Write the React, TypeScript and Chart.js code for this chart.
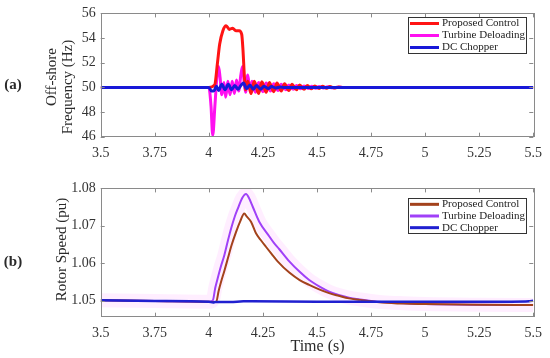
import React, { useEffect, useRef } from "react";
import { Chart, registerables } from "chart.js";
Chart.register(...registerables);

// ---------- data ----------
const X_TICKS = [3.5, 3.75, 4, 4.25, 4.5, 4.75, 5, 5.25, 5.5];
const FREQ_TICKS = [46, 48, 50, 52, 54, 56];
const SPEED_TICKS = [1.05, 1.06, 1.07, 1.08];
const LEGEND_LABELS = ["Proposed Control", "Turbine Deloading", "DC Chopper"];

// (a) Off-shore frequency (Hz)
const freqProposedT = [3.5, 4.0, 4.027, 4.04, 4.05, 4.065, 4.08, 4.095, 4.11, 4.125, 4.14, 4.152, 4.158, 4.164, 4.17,
  4.18, 4.195, 4.21, 4.23, 4.245, 4.265, 4.28, 4.3, 4.315, 4.335, 4.35, 4.37, 4.385, 4.405, 4.42, 4.44, 4.455, 4.475,
  4.49, 4.51, 4.525, 4.545, 4.56, 4.58, 4.6, 4.62, 5.5];
const freqProposedV = [50, 50, 50.2, 52.0, 53.5, 54.6, 55.0, 54.7, 54.8, 54.6, 54.6, 54.3, 53.0, 51.0, 49.8,
  50.5, 49.5, 50.5, 49.5, 50.45, 49.6, 50.4, 49.65, 50.35, 49.7, 50.3, 49.75, 50.25, 49.8, 50.2, 49.85, 50.15, 49.88,
  50.12, 49.9, 50.1, 49.93, 50.07, 49.95, 50.03, 50, 50];

const freqDeloadT = [3.5, 4.0, 4.01, 4.018, 4.028, 4.038, 4.045, 4.052, 4.06, 4.07, 4.078, 4.088, 4.098, 4.108, 4.118,
  4.128, 4.138, 4.148, 4.156, 4.163, 4.17, 4.18, 4.19, 4.2, 4.215, 4.23, 4.25, 4.265, 4.285, 4.3, 4.32, 4.335, 4.355,
  4.37, 4.39, 4.405, 4.425, 4.44, 4.46, 4.475, 4.495, 4.51, 4.53, 4.55, 4.57, 4.6, 4.62, 5.5];
const freqDeloadV = [50, 50, 48.5, 46.1, 48.5, 51.0, 51.7, 50.8, 49.4, 50.4, 49.2, 50.5, 49.4, 50.5, 49.5,
  50.6, 49.7, 51.0, 51.7, 50.5, 49.6, 51.0, 49.8, 50.5, 49.6, 50.4, 49.65, 50.35, 49.7, 50.3, 49.75, 50.25, 49.8,
  50.2, 49.85, 50.15, 49.88, 50.12, 49.9, 50.1, 49.92, 50.08, 49.95, 50.05, 49.97, 50.02, 50, 50];

const freqChopperT = [3.5, 4.0, 4.012, 4.025, 4.035, 4.045, 4.06, 4.075, 4.09, 4.105, 4.12, 4.135, 4.15, 4.16, 4.175,
  4.19, 4.205, 4.22, 4.24, 4.255, 4.275, 4.29, 4.31, 4.33, 4.35, 5.5];
const freqChopperV = [50, 50, 49.7, 49.75, 50.1, 49.75, 50.25, 49.8, 50.25, 49.8, 50.15, 49.85, 50.2, 50.35, 49.9,
  50.2, 49.85, 50.15, 49.85, 50.1, 49.9, 50.07, 49.95, 50.03, 50, 50];

// (b) Rotor speed (pu)
const speedProposedT = [3.5, 3.75, 4.0, 4.034, 4.045, 4.057, 4.072, 4.088, 4.105, 4.126, 4.145, 4.164, 4.175, 4.195,
  4.218, 4.24, 4.264, 4.29, 4.318, 4.372, 4.42, 4.464, 4.51, 4.556, 4.6, 4.648, 4.7, 4.75, 4.8, 4.9, 5.0, 5.25, 5.5];
const speedProposedV = [1.0501, 1.0499, 1.0497, 1.0496, 1.0525, 1.0551, 1.058, 1.0613, 1.0648, 1.0684, 1.0712, 1.0733,
  1.0725, 1.0711, 1.068, 1.0662, 1.0644, 1.0625, 1.0605, 1.0575, 1.0555, 1.0542, 1.053, 1.052, 1.0513, 1.0506, 1.0502,
  1.0498, 1.0495, 1.0492, 1.0491, 1.0489, 1.0488];

const speedDeloadT = [3.5, 3.75, 4.0, 4.018, 4.03, 4.041, 4.055, 4.072, 4.088, 4.103, 4.12, 4.134, 4.155, 4.172, 4.185,
  4.203, 4.233, 4.279, 4.3, 4.325, 4.372, 4.42, 4.464, 4.51, 4.556, 4.6, 4.648, 4.7, 4.75, 4.8, 4.9, 5.0, 5.25, 5.5];
const speedDeloadV = [1.0501, 1.0499, 1.0497, 1.05, 1.0535, 1.056, 1.059, 1.0622, 1.066, 1.0693, 1.0725, 1.0746, 1.0775,
  1.0785, 1.0775, 1.0751, 1.0711, 1.0672, 1.0655, 1.0638, 1.0605, 1.0577, 1.0555, 1.0538, 1.0524, 1.0515, 1.0508,
  1.0503, 1.0499, 1.0496, 1.0493, 1.0491, 1.0489, 1.0488];

const speedChopperT = [3.5, 3.75, 4.0, 4.02, 4.03, 4.1, 4.16, 4.2, 4.5, 5.0, 5.4, 5.48, 5.5];
const speedChopperV = [1.0501, 1.0499, 1.0497, 1.0495, 1.0496, 1.0496, 1.0498, 1.0498, 1.0497, 1.0497, 1.0497, 1.0498, 1.05];

// ---------- helpers ----------
const SERIF = '"Liberation Serif", "Times New Roman", serif';
const pts = (t: number[], v: number[]) => t.map((x, i) => ({ x, y: v[i] }));

type TextItem = { text: string; x: number; y: number; rot?: boolean; font: string };

const decorPlugin = {
  id: "decor",
  afterDatasetsDraw(chart: any, _args: any, opts: any) {
    const { ctx, chartArea: a, scales } = chart;
    ctx.save();
    // frame
    ctx.strokeStyle = "#8a8a8a";
    ctx.lineWidth = 1;
    ctx.strokeRect(Math.round(a.left) + 0.5, Math.round(a.top) + 0.5, Math.round(a.width), Math.round(a.height));
    // inward ticks on all sides
    const L = 4;
    ctx.beginPath();
    scales.x.ticks.forEach((t: any) => {
      const px = Math.round(scales.x.getPixelForValue(t.value)) + 0.5;
      ctx.moveTo(px, a.bottom); ctx.lineTo(px, a.bottom - L);
      ctx.moveTo(px, a.top); ctx.lineTo(px, a.top + L);
    });
    scales.y.ticks.forEach((t: any) => {
      const py = Math.round(scales.y.getPixelForValue(t.value)) + 0.5;
      ctx.moveTo(a.left, py); ctx.lineTo(a.left + L, py);
      ctx.moveTo(a.right, py); ctx.lineTo(a.right - L, py);
    });
    ctx.stroke();
    // legend
    const lb = opts.legendBox;
    if (lb) {
      ctx.fillStyle = "#ffffff";
      ctx.fillRect(lb.x, lb.y, lb.w, lb.h);
      ctx.strokeStyle = "#333333";
      ctx.strokeRect(lb.x + 0.5, lb.y + 0.5, lb.w, lb.h);
      const rowH = lb.h / 3;
      ctx.font = "11px " + SERIF;
      ctx.textBaseline = "middle";
      ctx.textAlign = "left";
      chart.data.datasets.forEach((ds: any) => {
        const idx = LEGEND_LABELS.indexOf(ds.label);
        if (idx < 0) return;
        const cy = lb.y + rowH * (idx + 0.5) + 0.5;
        ctx.strokeStyle = ds.borderColor;
        ctx.lineWidth = 3;
        ctx.beginPath();
        ctx.moveTo(lb.x + 2, cy);
        ctx.lineTo(lb.x + 31, cy);
        ctx.stroke();
        ctx.fillStyle = "#222222";
        ctx.fillText(ds.label, lb.x + 34, cy);
      });
    }
    // free texts
    (opts.texts || []).forEach((t: TextItem) => {
      ctx.save();
      ctx.font = t.font;
      ctx.fillStyle = "#2a2a2a";
      ctx.textAlign = "center";
      ctx.textBaseline = "middle";
      ctx.translate(t.x, t.y);
      if (t.rot) ctx.rotate(-Math.PI / 2);
      ctx.fillText(t.text, 0, 0);
      ctx.restore();
    });
    ctx.restore();
  },
};

function makeConfig(opts: {
  datasets: any[]; yMin: number; yMax: number; yTicks: number[]; yDecimals: number;
  canvasH: number; areaTop: number; areaBottom: number; legendBox: any; texts: TextItem[];
}) {
  const tickFont = { family: SERIF, size: 14 };
  return {
    type: "line" as const,
    data: { datasets: opts.datasets },
    options: {
      animation: false,
      responsive: false,
      maintainAspectRatio: false,
      parsing: true,
      layout: { padding: { left: 0, right: 15, top: opts.areaTop, bottom: 0 } },
      elements: { point: { radius: 0 } },
      plugins: {
        legend: { display: false },
        tooltip: { enabled: false },
        decor: { legendBox: opts.legendBox, texts: opts.texts },
      },
      scales: {
        x: {
          type: "linear",
          min: 3.5,
          max: 5.5,
          grid: { display: false, drawTicks: false },
          border: { display: false },
          afterBuildTicks: (s: any) => { s.ticks = X_TICKS.map((v) => ({ value: v })); },
          afterFit: (s: any) => { s.height = opts.canvasH - opts.areaBottom; },
          ticks: { font: tickFont, color: "#333333", padding: 8, maxRotation: 0, autoSkip: false,
            callback: (v: any) => String(v) },
        },
        y: {
          type: "linear",
          min: opts.yMin,
          max: opts.yMax,
          grid: { display: false, drawTicks: false },
          border: { display: false },
          afterBuildTicks: (s: any) => { s.ticks = opts.yTicks.map((v) => ({ value: v })); },
          afterFit: (s: any) => { s.width = 100.7; },
          ticks: { font: tickFont, color: "#333333", padding: 5, autoSkip: false,
            callback: (v: any) => Number(v).toFixed(opts.yDecimals) },
        },
      },
    },
    plugins: [decorPlugin],
  };
}

const line = (label: string, t: number[], v: number[], color: string, width: number, order: number) => ({
  label,
  data: pts(t, v),
  borderColor: color,
  backgroundColor: color,
  borderWidth: width,
  fill: false,
  cubicInterpolationMode: "monotone",
  order,
});

export default function App() {
  const topRef = useRef<HTMLCanvasElement | null>(null);
  const botRef = useRef<HTMLCanvasElement | null>(null);

  useEffect(() => {
    const topCfg = makeConfig({
      datasets: [
        line(LEGEND_LABELS[0], freqProposedT, freqProposedV, "#ff1414", 3, 1),
        line(LEGEND_LABELS[1], freqDeloadT, freqDeloadV, "#ff10f0", 3, 2),
        line(LEGEND_LABELS[2], freqChopperT, freqChopperV, "#1818d8", 3, 0),
      ],
      yMin: 46, yMax: 56, yTicks: FREQ_TICKS, yDecimals: 0,
      canvasH: 175, areaTop: 9.3, areaBottom: 136.7,
      legendBox: { x: 408, y: 17, w: 118, h: 36 },
      texts: [
        { text: "(a)", x: 13, y: 85, font: "bold 15px " + SERIF },
        { text: "Off-shore", x: 52, y: 77, rot: true, font: "15px " + SERIF },
        { text: "Frequency (Hz)", x: 68, y: 87, rot: true, font: "15px " + SERIF },
      ],
    });
    const botCfg = makeConfig({
      datasets: [
        line(LEGEND_LABELS[0], speedProposedT, speedProposedV, "#a3421c", 2, 1),
        line(LEGEND_LABELS[1], speedDeloadT, speedDeloadV, "#a040f8", 2, 2),
        line(LEGEND_LABELS[2], speedChopperT, speedChopperV, "#2020d0", 2.5, 0),
        line("", speedDeloadT, speedDeloadV, "rgba(255,120,255,0.13)", 14, 3),
      ],
      yMin: 1.0457, yMax: 1.08, yTicks: SPEED_TICKS, yDecimals: 2,
      canvasH: 183, areaTop: 13.3, areaBottom: 141.7,
      legendBox: { x: 408, y: 23, w: 118, h: 35 },
      texts: [
        { text: "(b)", x: 13, y: 87, font: "bold 15px " + SERIF },
        { text: "Rotor Speed (pu)", x: 62, y: 74.5, rot: true, font: "15px " + SERIF },
        { text: "Time (s)", x: 317.5, y: 171.5, font: "16px " + SERIF },
      ],
    });
    const c1 = new Chart(topRef.current as HTMLCanvasElement, topCfg as any);
    const c2 = new Chart(botRef.current as HTMLCanvasElement, botCfg as any);
    return () => { c1.destroy(); c2.destroy(); };
  }, []);

  return (
    <div style={{ position: "fixed", left: 0, top: 0, width: 550, height: 358, background: "#ffffff" }}>
      <canvas ref={topRef} width={550} height={175} style={{ position: "absolute", left: 0, top: 0, width: 550, height: 175 }} />
      <canvas ref={botRef} width={550} height={183} style={{ position: "absolute", left: 0, top: 175, width: 550, height: 183 }} />
    </div>
  );
}
